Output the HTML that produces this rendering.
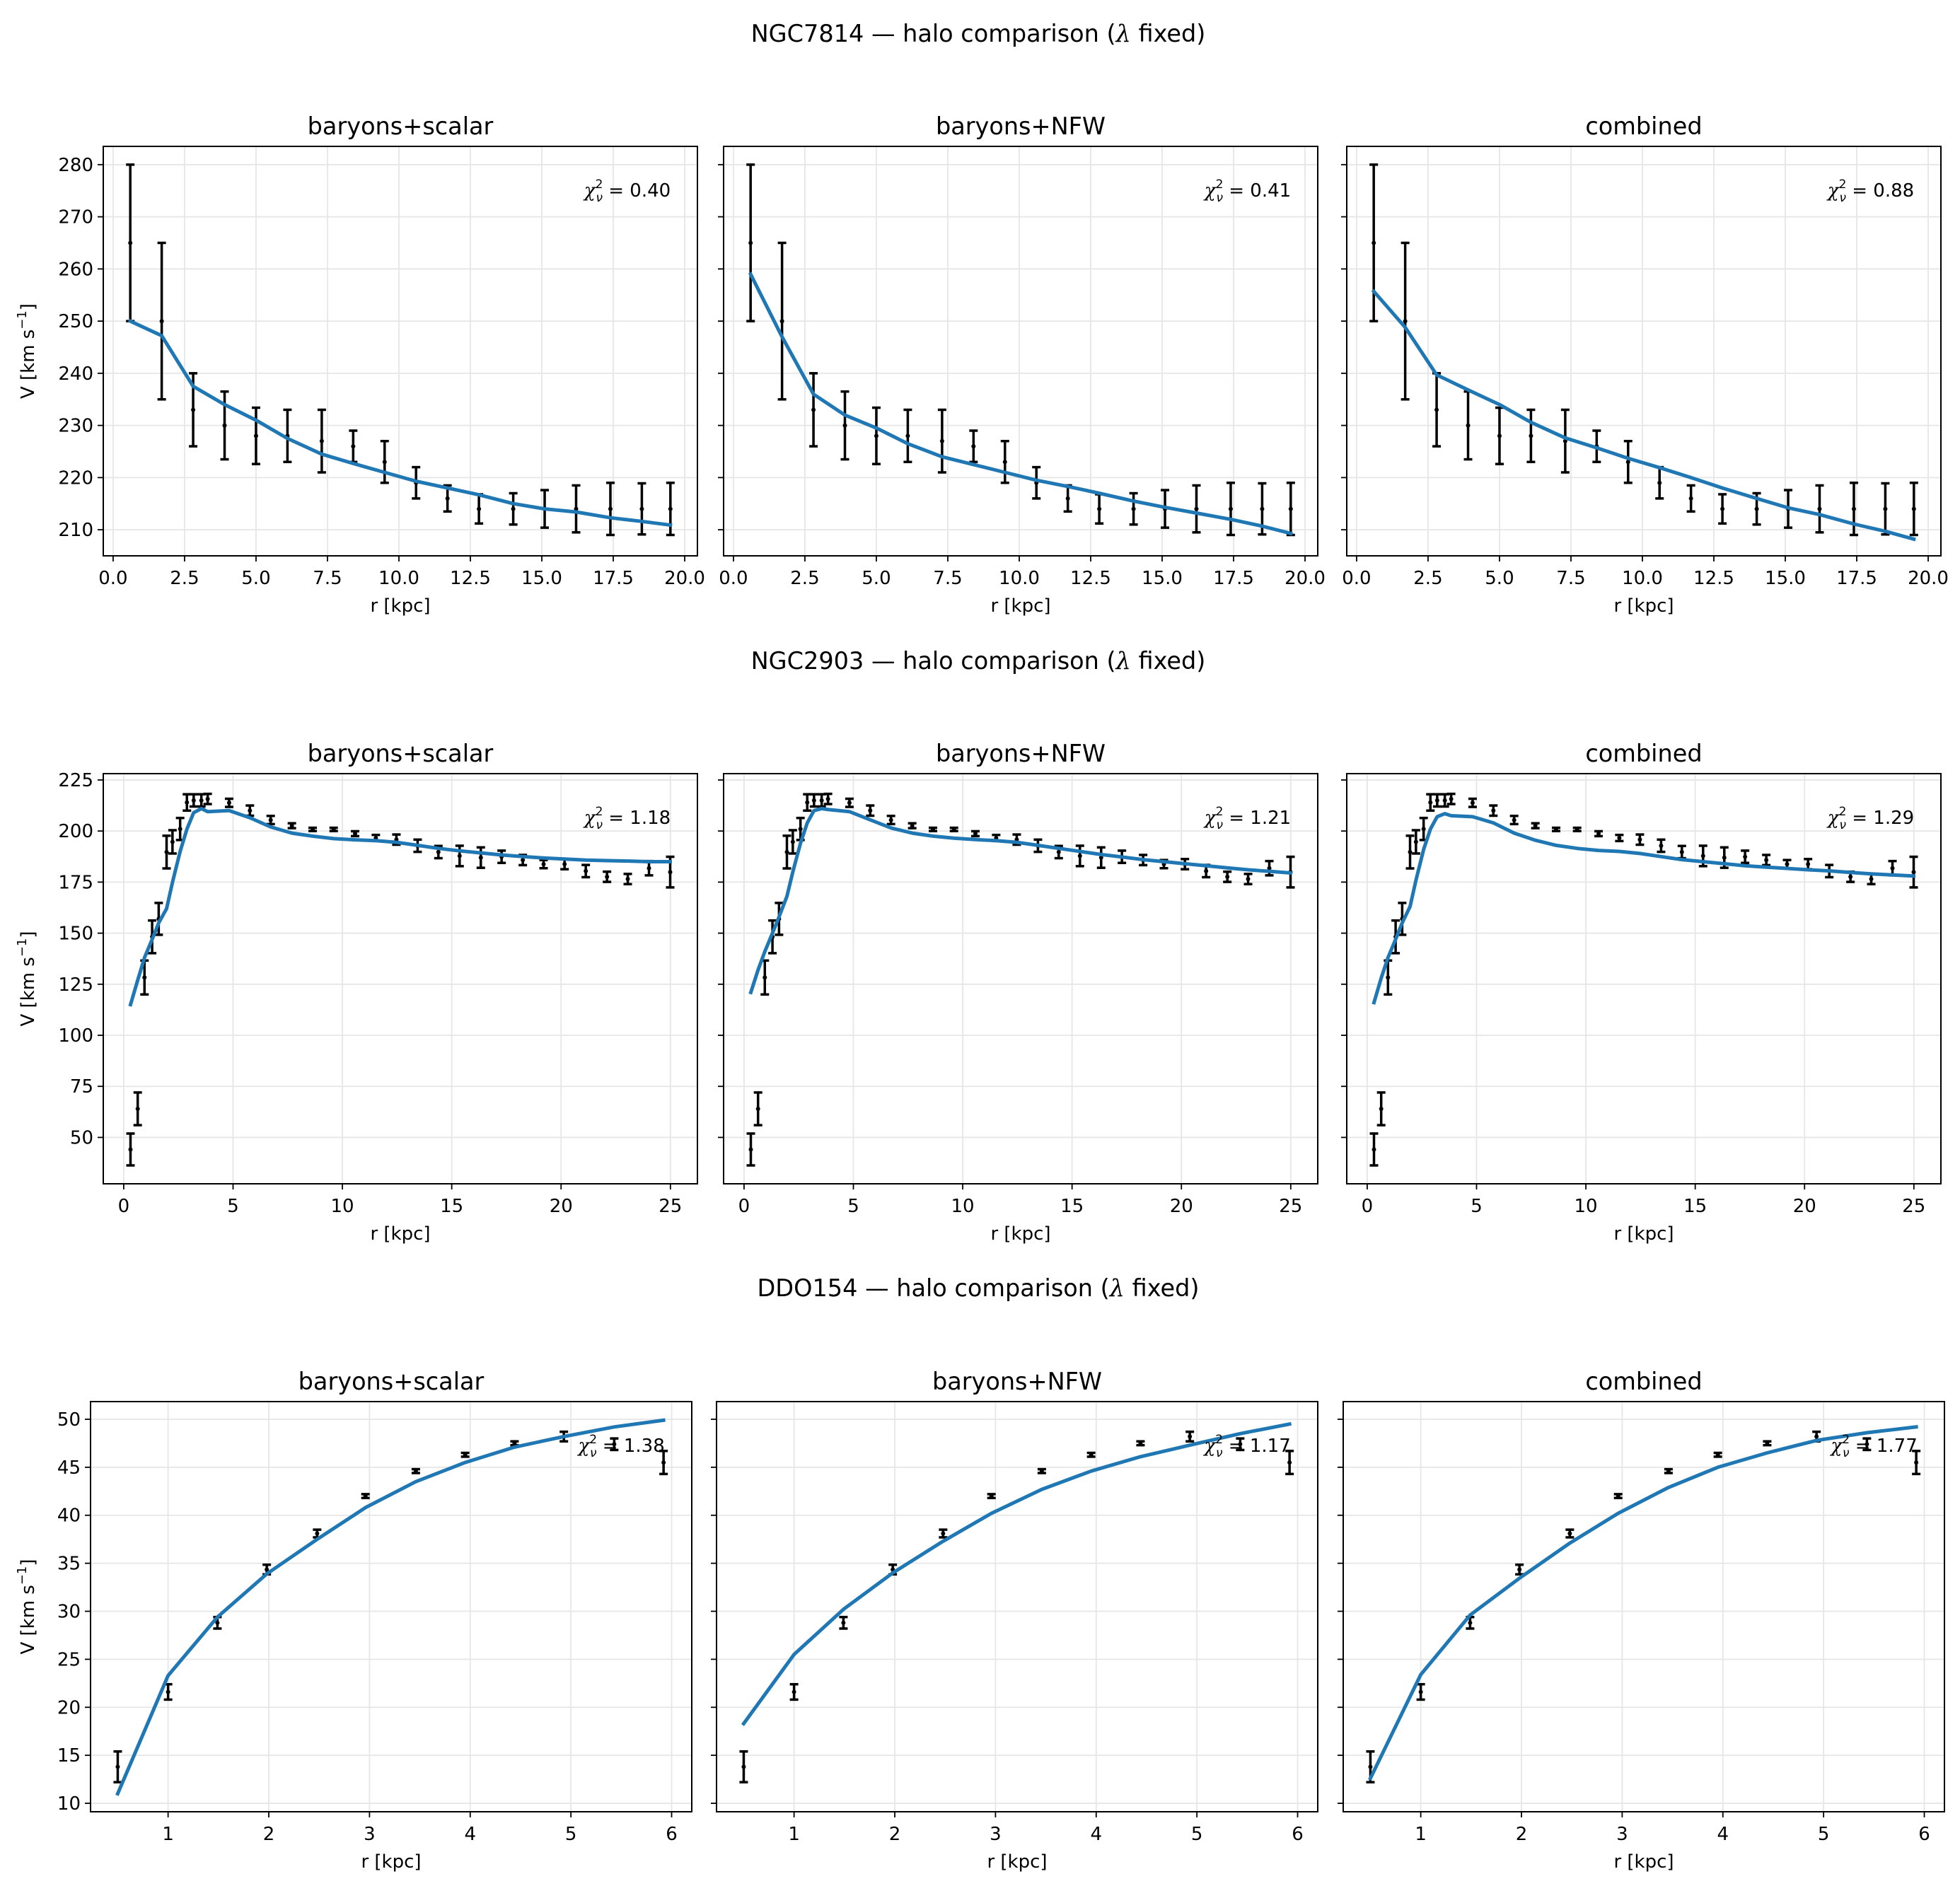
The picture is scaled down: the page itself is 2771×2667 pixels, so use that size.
<!DOCTYPE html>
<html><head><meta charset="utf-8"><title>Halo comparison</title>
<style>html,body{margin:0;padding:0;background:#fff}svg{display:block}</style></head>
<body>
<svg id="fig" xmlns="http://www.w3.org/2000/svg" width="2771" height="2667" viewBox="0 0 2771 2667" font-family="'DejaVu Sans', 'Liberation Sans', sans-serif"></svg>
<script>
// ---- NGC7814 ----
const r1 = [0.6,1.7,2.8,3.9,5.0,6.1,7.3,8.4,9.5,10.6,11.7,12.8,14.0,15.1,16.2,17.4,18.5,19.5];
const v1 = [265,250,233,230,228,228,227,226,223,219,216,214,214,214,214,214,214,214];
const e1 = [15,15,7,6.5,5.4,5,6,3,4,3,2.5,2.8,3,3.6,4.5,5,4.9,5];
const m1scalar = [250,247.2,237.5,234,231,227.5,224.5,222.7,221,219.3,218,216.7,215,214,213.4,212.3,211.6,210.9];
const m1nfw = [259,247,236,232,229.5,226.5,224,222.5,221,219.5,218.3,217,215.5,214.3,213.2,212,210.7,209.3];
const m1comb = [255.7,248.8,239.7,236.8,234,230.6,227.6,225.7,223.7,221.9,220,218,216,214.2,212.9,211.1,209.7,208.2];
const chi1 = ["0.40","0.41","0.88"];
const yt1 = [210,220,230,240,250,260,270,280];
const xt1 = [0,2.5,5,7.5,10,12.5,15,17.5,20];
const xt1lab = ["0.0","2.5","5.0","7.5","10.0","12.5","15.0","17.5","20.0"];
// ---- NGC2903 ----
const r2 = [0.31,0.64,0.95,1.3,1.6,1.96,2.23,2.58,2.89,3.2,3.55,3.84,4.82,5.77,6.72,7.69,8.64,9.6,10.58,11.53,12.47,13.44,14.39,15.36,16.33,17.28,18.25,19.2,20.16,21.13,22.1,23.05,24.02,24.99];
const v2 = [44.1,64,128.3,148.2,157,189.7,194.7,201,214,215,215,215.7,213.8,210,205.4,202.6,200.8,200.8,198.7,196.6,195.8,192.8,189.7,187.8,187,187.4,185.8,183.8,183.8,180.4,177.6,176.5,181.8,179.9];
const e2 = [7.8,8,8.3,8,7.8,8,5.7,5.4,4,3,3,2.5,2,2.5,2,1.2,0.8,0.8,1.2,1.5,2.5,3,3,5,5,3,2.5,2,2.5,3,2.5,2.5,3.5,7.5];
const m2scalar = [115,127,138,147,155,162,175,190,201,209,211,209.5,210,206.5,202,199,197.5,196.3,195.7,195.3,194.5,193,191.5,190.3,189.3,188.3,187.5,186.8,186.3,185.8,185.5,185.3,185,185];
const m2nfw = [121,132,141,150,158,168,180,194,204,210,211,210.5,209.5,205.5,201.5,199,197.5,196.5,195.8,195.3,194.5,193,191.5,190,188.5,187.3,186,185,184,183,182,181,180.3,179.5];
const m2comb = [116,128,138,147,155,163,176,191,201,207,208.5,207.5,207,204,199,195.5,193,191.5,190.5,190,189,187.5,186,185,184,183,182.3,181.7,181,180.5,179.7,179,178.5,178];
const chi2 = ["1.18","1.21","1.29"];
const yt2 = [50,75,100,125,150,175,200,225];
const xt2 = [0,5,10,15,20,25];
const xt2lab = ["0","5","10","15","20","25"];
// ---- DDO154 ----
const r3 = [0.5,1.0,1.49,1.98,2.48,2.96,3.46,3.95,4.44,4.93,5.43,5.92];
const v3 = [13.8,21.6,28.8,34.35,38.1,42,44.6,46.3,47.5,48.2,47.4,45.5];
const e3 = [1.6,0.8,0.6,0.5,0.4,0.2,0.2,0.2,0.2,0.5,0.6,1.2];
const m3scalar = [11,23.3,29.4,33.9,37.5,40.8,43.5,45.5,47.1,48.2,49.2,49.9];
const m3nfw = [18.3,25.5,30.2,34,37.3,40.2,42.7,44.6,46.1,47.3,48.5,49.5];
const m3comb = [12.6,23.4,29.6,33.45,37.1,40.2,42.9,45,46.5,47.8,48.6,49.2];
const chi3 = ["1.38","1.17","1.77"];
const yt3 = [10,15,20,25,30,35,40,45,50];
const xt3 = [1,2,3,4,5,6];
const xt3lab = ["1","2","3","4","5","6"];

const panelTitles = ["baryons+scalar","baryons+NFW","combined"];
const galaxies = ["NGC7814","NGC2903","DDO154"];

const NS = "http://www.w3.org/2000/svg";
const svg = document.getElementById('fig');
function mk(tag, attrs, parent){
  const el = document.createElementNS(NS, tag);
  for (const k in attrs) el.setAttribute(k, attrs[k]);
  (parent||svg).appendChild(el);
  return el;
}

const rows = [
  {r:r1,v:v1,e:e1,models:[m1scalar,m1nfw,m1comb],chi:chi1,yt:yt1,ytlab:yt1.map(String),xt:xt1,xtlab:xt1lab,
   xlim:[-0.345,20.445],ylim:[205,283.5],lefts:[146,1023,1904],w:840,top:207,h:579,supY:59},
  {r:r2,v:v2,e:e2,models:[m2scalar,m2nfw,m2comb],chi:chi2,yt:yt2,ytlab:yt2.map(String),xt:xt2,xtlab:xt2lab,
   xlim:[-0.935,26.235],ylim:[27.3,228.1],lefts:[146,1023,1904],w:840,top:1094,h:580,supY:946},
  {r:r3,v:v3,e:e3,models:[m3scalar,m3nfw,m3comb],chi:chi3,yt:yt3,ytlab:yt3.map(String),xt:xt3,xtlab:xt3lab,
   xlim:[0.23,6.2],ylim:[9.12,51.84],lefts:[128,1013,1899],w:850,top:1982,h:580,supY:1833}
];

rows.forEach((row, ri) => {
  const sup = mk('text',{x:1383,y:row.supY,'text-anchor':'middle','font-size':33.5,fill:'#000'});
  
  
  sup.innerHTML = galaxies[ri] + ' \u2014 halo comparison (<tspan font-style="italic" font-family="\'DejaVu Serif\', serif">\u03bb</tspan> fixed)';

  row.lefts.forEach((L, pi) => {
    const T = row.top, W = row.w, H = row.h;
    const sx = x => L + (x - row.xlim[0]) / (row.xlim[1]-row.xlim[0]) * W;
    const sy = y => T + H - (y - row.ylim[0]) / (row.ylim[1]-row.ylim[0]) * H;
    const g = mk('g',{});
    
    
    row.xt.forEach(t => { const l = mk('line',{x1:sx(t),x2:sx(t),y1:T,y2:T+H,stroke:'#e6e6e6','stroke-width':1.8},g);
        });
    row.yt.forEach(t => { const l = mk('line',{x1:L,x2:L+W,y1:sy(t),y2:sy(t),stroke:'#e6e6e6','stroke-width':1.8},g);
        });
    row.r.forEach((x, i) => {
      const X = sx(x), y0 = sy(row.v[i]-row.e[i]), y1 = sy(row.v[i]+row.e[i]);
      const eb = mk('g',{stroke:'#000','stroke-width':3.5},g);
      
      
      mk('line',{x1:X,x2:X,y1:y0,y2:y1},eb);
      mk('line',{x1:X-6,x2:X+6,y1:y0,y2:y0},eb);
      mk('line',{x1:X-6,x2:X+6,y1:y1,y2:y1},eb);
      mk('circle',{cx:X,cy:sy(row.v[i]),r:3,fill:'#000',stroke:'none'},eb);
    });
    const m = row.models[pi];
    const pts = row.r.map((x,i)=> sx(x).toFixed(1)+','+sy(m[i]).toFixed(1)).join(' ');
    const pl = mk('polyline',{points:pts,fill:'none',stroke:'#1f77b4','stroke-width':5,'stroke-linejoin':'round','stroke-linecap':'square'},g);
    
    
    const fr = mk('rect',{x:L,y:T,width:W,height:H,fill:'none',stroke:'#000','stroke-width':2},g);
    
    
    row.xt.forEach((t,k) => {
      mk('line',{x1:sx(t),x2:sx(t),y1:T+H,y2:T+H+8,stroke:'#000','stroke-width':1.8},g);
      const tl = mk('text',{x:sx(t),y:T+H+40,'text-anchor':'middle','font-size':26,fill:'#000'},g);
      
      
      tl.textContent = row.xtlab[k];
    });
    row.yt.forEach((t,k) => {
      mk('line',{x1:L-8,x2:L,y1:sy(t),y2:sy(t),stroke:'#000','stroke-width':1.8},g);
      if (pi===0) {
        const tl = mk('text',{x:L-14,y:sy(t)+9,'text-anchor':'end','font-size':26,fill:'#000'},g);
        
        
        tl.textContent = row.ytlab[k];
      }
    });
    const xl = mk('text',{x:L+W/2,y:T+H+79,'text-anchor':'middle','font-size':26,fill:'#000'},g);
    
    
    xl.textContent = 'r [kpc]';
    if (pi===0) {
      const yl = mk('text',{x:0,y:0,'text-anchor':'middle','font-size':26,fill:'#000',transform:`translate(48,${T+H/2}) rotate(-90)`},g);
      
      
      yl.innerHTML = 'V [km s<tspan font-size="18" dy="-11">\u22121</tspan><tspan dy="11">]</tspan>';
    }
    const tt = mk('text',{x:L+W/2,y:T-17,'text-anchor':'middle','font-size':33.5,fill:'#000'},g);
    
    
    tt.textContent = panelTitles[pi];
    const ct = mk('text',{x:L+0.955*W,y:T+0.105*H+10,'text-anchor':'end','font-size':26,fill:'#000'},g);
    
    
    ct.innerHTML = '<tspan font-style="italic" font-family="\'DejaVu Serif\', serif">\u03c7</tspan><tspan font-size="17" dy="-12">2</tspan><tspan font-size="17" font-style="italic" dx="-10" dy="19">\u03bd</tspan><tspan dy="-7"> = ' + row.chi[pi] + '</tspan>';
  });
});
</script>
</body></html>
